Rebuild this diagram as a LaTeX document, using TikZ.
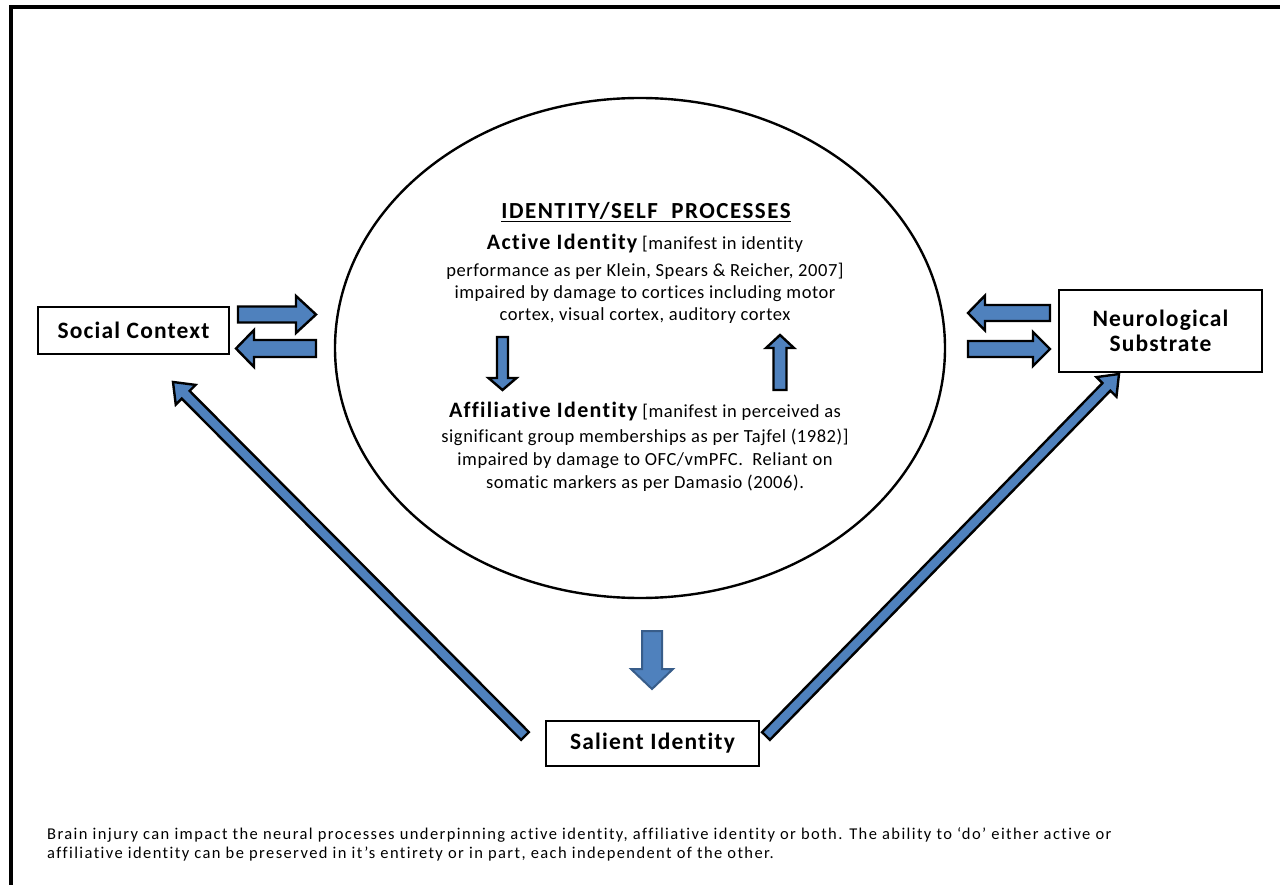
\documentclass[tikz,border=0pt]{standalone}
\usepackage{fontspec}
\setmainfont{Carlito}[Ligatures=NoCommon]
\usetikzlibrary{calc,shapes.geometric}
\definecolor{blfill}{HTML}{4F81BD}
\definecolor{bldraw}{HTML}{385D8A}
\newcommand{\blockarrow}[6]{%
  \coordinate (hb) at ($(#3)!#6!(#2)$);
  \path[#1] ($(#2)!#4!90:(#3)$) -- ($(hb)!#4!90:(#3)$) -- ($(hb)!#5!90:(#3)$) -- (#3)
    -- ($(hb)!#5!-90:(#3)$) -- ($(hb)!#4!-90:(#3)$) -- ($(#2)!#4!-90:(#3)$) -- cycle;}
\newcommand{\bigbold}{\bfseries\fontsize{22}{26}\selectfont\addfontfeature{LetterSpace=6}}
\tikzset{
  box/.style={draw, line width=2.6pt, inner sep=0pt, font=\bfseries\fontsize{23.5}{26}\selectfont\addfontfeature{LetterSpace=5}, align=center},
  blk/.style={fill=blfill, draw=black, line width=2.4pt, line join=miter},
  blkb/.style={fill=blfill, draw=bldraw, line width=2pt, line join=miter},
  txt/.style={anchor=base, inner sep=0pt, font=\fontsize{18.5}{22}\selectfont\addfontfeature{LetterSpace=3}},
  foottxt/.style={anchor=base west, inner sep=0pt, font=\fontsize{16.5}{19}\selectfont\addfontfeature{LetterSpace=8.5}},
}
\begin{document}
\begin{tikzpicture}[x=1pt,y=-1pt]
\useasboundingbox (0,0) rectangle (1280,885);
% frame
\draw[line width=4pt] (10.5,885) -- (10.5,7.5) -- (1280,7.5);
% ellipse
\node[draw, ellipse, line width=2.4pt, minimum width=610pt, minimum height=500pt] (proc) at (640,348) {};
% boxes
\node[box, minimum width=191pt, minimum height=47pt] (sc) at (133.5,330.5) {Social Context};
\node[box, minimum width=203pt, minimum height=82pt] (ns) at (1160.5,331) {Neurological\\[-1pt]Substrate};
\node[box, minimum width=213pt, minimum height=45pt] (si) at (652.5,743.5) {Salient Identity};
% heading
\node[anchor=base, inner sep=0pt, font=\bfseries\fontsize{23}{26}\selectfont\addfontfeature{LetterSpace=6.5}] (head) at (646,219) {\underline{IDENTITY/SELF\ \ PROCESSES}};
% active identity
\node[txt] (a1) at (645,250) {{\bigbold Active Identity} [manifest in identity};
\node[txt] (a2) at (645,277) {performance as per Klein, Spears \& Reicher, 2007]};
\node[txt] (a3) at (645,299) {impaired by damage to cortices including motor};
\node[txt] (a4) at (645,321) {cortex, visual cortex, auditory cortex};
% affiliative identity
\node[txt] (b1) at (645,417) {{\bigbold Affiliative Identity} [manifest in perceived as};
\node[txt] (b2) at (645,442) {significant group memberships as per Tajfel (1982)]};
\node[txt] (b3) at (645,465) {impaired by damage to OFC/vmPFC.\ \ Reliant on};
\node[txt] (b4) at (645,488) {somatic markers as per Damasio (2006).};
% footnote
\node[foottxt] (foot) at (47,839)
  {Brain injury can impact the neural processes underpinning active identity, affiliative identity or both. The ability to ‘do’ either active or};
\node[foottxt] (foot2) at (47,858)
  {affiliative identity can be preserved in it’s entirety or in part, each independent of the other.};
% arrow coordinates
\coordinate (s1a) at (238,314.5); \coordinate (s1b) at (316,314.5);
\coordinate (s2a) at (316,348.5); \coordinate (s2b) at (236,348.5);
\coordinate (n1a) at (1050,313); \coordinate (n1b) at (968,313);
\coordinate (n2a) at (968,349); \coordinate (n2b) at (1050,349);
\coordinate (d1a) at (502.5,337); \coordinate (d1b) at (502.5,390);
\coordinate (u1a) at (780,390); \coordinate (u1b) at (780,335);
\coordinate (b0a) at (652,631); \coordinate (b0b) at (652,689);
\coordinate (l1a) at (525,736); \coordinate (l1b) at (173,382);
\coordinate (r1a) at (766,736); \coordinate (r1b) at (1119,374);
% arrows
\blockarrow{blk}{s1a}{s1b}{8pt}{18.5pt}{20pt}
\blockarrow{blk}{s2a}{s2b}{8.5pt}{18.5pt}{18pt}
\blockarrow{blk}{n1a}{n1b}{8pt}{17.5pt}{17pt}
\blockarrow{blk}{n2a}{n2b}{8pt}{17pt}{17pt}
\blockarrow{blk}{d1a}{d1b}{5.5pt}{14pt}{12pt}
\blockarrow{blk}{u1a}{u1b}{6.5pt}{14pt}{13pt}
\blockarrow{blkb}{b0a}{b0b}{10pt}{21pt}{20pt}
\blockarrow{blk}{l1a}{l1b}{5.5pt}{14pt}{18pt}
\blockarrow{blk}{r1a}{r1b}{5.5pt}{14pt}{18pt}
\end{tikzpicture}
\end{document}
